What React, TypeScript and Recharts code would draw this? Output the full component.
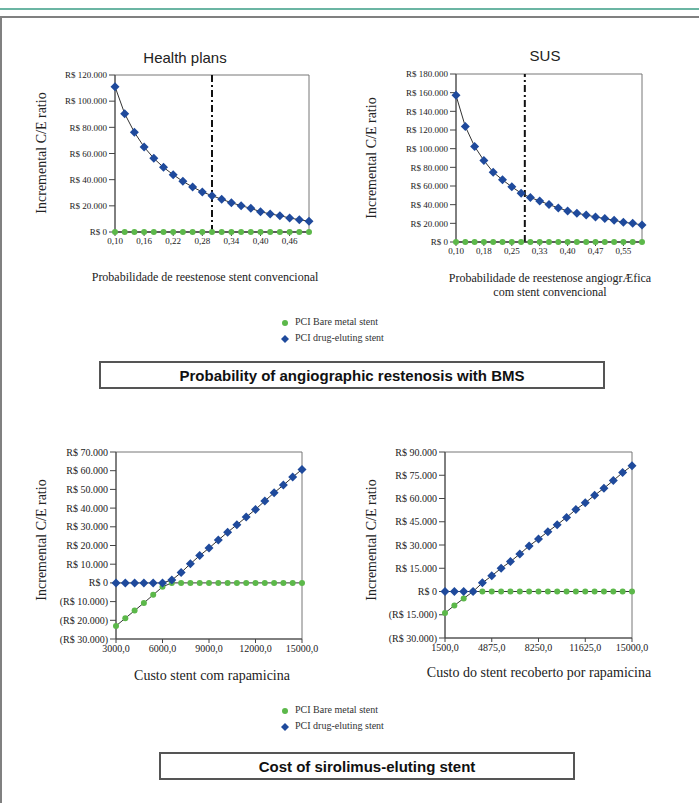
import React from 'react';
import { LineChart, Line, XAxis, YAxis, ReferenceLine, ReferenceArea } from 'recharts';

// --- data ---------------------------------------------------------------
const probHealth = [0.10, 0.12, 0.14, 0.16, 0.18, 0.20, 0.22, 0.24, 0.26, 0.28, 0.30, 0.32, 0.34, 0.36, 0.38, 0.40, 0.42, 0.44, 0.46, 0.48, 0.50];
const healthDes = [111100, 90400, 76200, 65000, 56300, 49400, 43800, 38700, 34400, 30600, 27800, 25000, 22400, 20100, 18100, 15500, 13800, 12500, 10700, 9400, 8200];
const healthBms = [0, 0, 0, 0, 0, 0, 0, 0, 0, 0, 0, 0, 0, 0, 0, 0, 0, 0, 0, 0, 0];
const healthTicks = [0.10, 0.16, 0.22, 0.28, 0.34, 0.40, 0.46];
const healthTickLabels = ['0,10', '0,16', '0,22', '0,28', '0,34', '0,40', '0,46'];

const probSus = [0.100, 0.125, 0.150, 0.175, 0.200, 0.225, 0.250, 0.275, 0.300, 0.325, 0.350, 0.375, 0.400, 0.425, 0.450, 0.475, 0.500, 0.525, 0.550, 0.575, 0.600];
const susDes = [157100, 123800, 102400, 87300, 74800, 66600, 59100, 52300, 47600, 44000, 40100, 36500, 33300, 30800, 29000, 26800, 25100, 23300, 21100, 20000, 18300];
const susBms = [0, 0, 0, 0, 0, 0, 0, 0, 0, 0, 0, 0, 0, 0, 0, 0, 0, 0, 0, 0, 0];
const susTicks = [0.100, 0.175, 0.250, 0.325, 0.400, 0.475, 0.550];
const susTickLabels = ['0,10', '0,18', '0,25', '0,33', '0,40', '0,47', '0,55'];

const costA = [3000, 3600, 4200, 4800, 5400, 6000, 6600, 7200, 7800, 8400, 9000, 9600, 10200, 10800, 11400, 12000, 12600, 13200, 13800, 14400, 15000];
const costADes = [0, 0, 0, 0, 0, 0, 1500, 5500, 10200, 14600, 18600, 22900, 27100, 31100, 35200, 39300, 43800, 48200, 52300, 56600, 60700];
const costABms = [-23000, -18900, -14800, -10700, -6400, -2100, 0, 0, 0, 0, 0, 0, 0, 0, 0, 0, 0, 0, 0, 0, 0];
const costATicks = [3000, 6000, 9000, 12000, 15000];

const costB = [1500, 2175, 2850, 3525, 4200, 4875, 5550, 6225, 6900, 7575, 8250, 8925, 9600, 10275, 10950, 11625, 12300, 12975, 13650, 14325, 15000];
const costBDes = [0, 0, 0, 0, 5600, 10100, 15000, 19300, 24200, 29400, 33900, 38600, 43100, 47800, 52900, 57200, 62100, 66600, 71600, 76700, 81200];
const costBBms = [-13900, -9000, -4500, 0, 0, 0, 0, 0, 0, 0, 0, 0, 0, 0, 0, 0, 0, 0, 0, 0, 0];
const costBTicks = [1500, 4875, 8250, 11625, 15000];

const BLUE = '#1f4a9c';
const GREEN = '#5cb84a';
const SERIF = '"Liberation Serif", "Times New Roman", serif';
const SANS = '"Liberation Sans", Arial, sans-serif';

const thousands = (v: number) => String(Math.round(v)).replace(/\B(?=(\d{3})+(?!\d))/g, '.');
const money = (v: number) => (v < 0 ? `(R$ ${thousands(-v)})` : `R$ ${thousands(v)}`);
const cost = (v: number) => v.toFixed(1).replace('.', ',');

const Diamond = (props: any) => {
  const { cx, cy } = props;
  if (cx == null || cy == null) return null;
  const r = 4.5;
  return <polygon points={`${cx},${cy - r} ${cx + r},${cy} ${cx},${cy + r} ${cx - r},${cy}`} fill={BLUE} />;
};
const Dot = (props: any) => {
  const { cx, cy } = props;
  if (cx == null || cy == null) return null;
  return <circle cx={cx} cy={cy} r={3} fill={GREEN} />;
};

type PanelProps = {
  plot: { x: number; y: number; w: number; h: number };
  xs: number[];
  des: number[];
  bms: number[];
  xTicks: number[];
  xFmt: (v: number, i: number) => string;
  yDomain: [number, number];
  yTicks: number[];
  tickSize: number;
  refX?: number;
};

function Panel({ plot, xs, des, bms, xTicks, xFmt, yDomain, yTicks, tickSize, refX }: PanelProps) {
  const rows = xs.map((x, i) => ({ x, des: des[i], bms: bms[i] }));
  const left = 80;
  const top = 10;
  const right = 30;
  const bottom = 30;
  const tickStyle = { fontFamily: SERIF, fontSize: tickSize, fill: '#222' };
  return (
    <div style={{ position: 'absolute', left: plot.x - left, top: plot.y - top }}>
      <LineChart
        width={plot.w + left + right}
        height={plot.h + top + bottom}
        data={rows}
        margin={{ top, right, left: 0, bottom: 0 }}
      >
        <ReferenceArea x1={xs[0]} x2={xs[xs.length - 1]} y1={yDomain[0]} y2={yDomain[1]} fill="none" stroke="#777" strokeWidth={1} ifOverflow="visible" />
        <XAxis
          dataKey="x"
          type="number"
          domain={[xs[0], xs[xs.length - 1]]}
          ticks={xTicks}
          tickFormatter={xFmt}
          height={bottom}
          stroke="#444"
          tick={tickStyle}
          tickSize={4}
          interval={0}
        />
        <YAxis
          type="number"
          domain={yDomain}
          ticks={yTicks}
          tickFormatter={money}
          width={left}
          stroke="#444"
          tick={tickStyle}
          tickSize={6}
          interval={0}
        />
        {refX != null && (
          <ReferenceLine x={refX} stroke="#111" strokeWidth={2} strokeDasharray="7 3 2 3" />
        )}
        <Line dataKey="bms" stroke="#333" strokeWidth={1} dot={<Dot />} isAnimationActive={false} />
        <Line dataKey="des" stroke="#333" strokeWidth={1} dot={<Diamond />} isAnimationActive={false} />
      </LineChart>
    </div>
  );
}

const abs = (x: number, y: number, extra: React.CSSProperties = {}): React.CSSProperties => ({
  position: 'absolute',
  left: x,
  top: y,
  whiteSpace: 'nowrap',
  ...extra,
});

function YLabel({ x, y }: { x: number; y: number }) {
  return (
    <div style={abs(x, y, { transform: 'translate(-50%, -50%) rotate(-90deg)', fontFamily: SERIF, fontSize: 14, color: '#222' })}>
      Incremental C/E ratio
    </div>
  );
}

function Legend({ x, y }: { x: number; y: number }) {
  const text: React.CSSProperties = { fontFamily: SERIF, fontSize: 10, color: '#333' };
  return (
    <div style={abs(x, y)}>
      <svg width={12} height={30} style={{ position: 'absolute', left: 0, top: 0 }}>
        <circle cx={5} cy={6} r={3} fill={GREEN} />
        <polygon points="5,18 9,22 5,26 1,22" fill={BLUE} />
      </svg>
      <div style={abs(15, -1, text)}>PCI Bare metal stent</div>
      <div style={abs(15, 15, text)}>PCI drug-eluting stent</div>
    </div>
  );
}

function TitleBox({ x, y, w, h, children }: { x: number; y: number; w: number; h: number; children: React.ReactNode }) {
  return (
    <div
      style={abs(x, y, {
        width: w,
        height: h,
        boxSizing: 'border-box',
        border: '2px solid #555',
        display: 'flex',
        alignItems: 'center',
        justifyContent: 'center',
        fontFamily: SANS,
        fontWeight: 'bold',
        fontSize: 15,
        color: '#111',
      })}
    >
      {children}
    </div>
  );
}

export default function App() {
  return (
    <div style={{ position: 'absolute', left: 0, top: 0, width: 699, height: 803, background: '#fff', overflow: 'hidden' }}>
      <div style={abs(0, 8, { width: 699, height: 2, background: '#6bb5a3' })} />
      <div style={abs(0, 16, { width: 699, height: 800, borderTop: '2px solid #808080', borderLeft: '2px solid #808080', boxSizing: 'border-box' })} />

      <div style={abs(185, 57, { transform: 'translate(-50%, -50%)', fontFamily: SANS, fontSize: 15, color: '#222' })}>Health plans</div>
      <div style={abs(545, 55, { transform: 'translate(-50%, -50%)', fontFamily: SANS, fontSize: 15, color: '#222' })}>SUS</div>

      <Panel
        plot={{ x: 115, y: 75, w: 194, h: 157 }}
        xs={probHealth}
        des={healthDes}
        bms={healthBms}
        xTicks={healthTicks}
        xFmt={(v) => healthTickLabels[healthTicks.indexOf(v)] ?? ''}
        yDomain={[0, 120000]}
        yTicks={[0, 20000, 40000, 60000, 80000, 100000, 120000]}
        tickSize={9}
        refX={0.30}
      />
      <Panel
        plot={{ x: 456, y: 74, w: 186, h: 168 }}
        xs={probSus}
        des={susDes}
        bms={susBms}
        xTicks={susTicks}
        xFmt={(v) => susTickLabels[susTicks.indexOf(v)] ?? ''}
        yDomain={[0, 180000]}
        yTicks={[0, 20000, 40000, 60000, 80000, 100000, 120000, 140000, 160000, 180000]}
        tickSize={9}
        refX={0.285}
      />
      <YLabel x={42} y={153} />
      <YLabel x={372} y={158} />
      <div style={abs(205, 277, { transform: 'translate(-50%, -50%)', fontFamily: SERIF, fontSize: 12, color: '#222' })}>
        Probabilidade de reestenose stent convencional
      </div>
      <div style={abs(550, 285, { transform: 'translate(-50%, -50%)', fontFamily: SERIF, fontSize: 12, color: '#222', textAlign: 'center', lineHeight: '14px' })}>
        Probabilidade de reestenose angiogrÆfica
        <br />
        com stent convencional
      </div>
      <Legend x={280} y={317} />
      <TitleBox x={99} y={361} w={506} h={28}>Probability of angiographic restenosis with BMS</TitleBox>

      <Panel
        plot={{ x: 116, y: 452, w: 186, h: 187 }}
        xs={costA}
        des={costADes}
        bms={costABms}
        xTicks={costATicks}
        xFmt={cost}
        yDomain={[-30000, 70000]}
        yTicks={[-30000, -20000, -10000, 0, 10000, 20000, 30000, 40000, 50000, 60000, 70000]}
        tickSize={10}
      />
      <Panel
        plot={{ x: 445, y: 452, w: 187, h: 186 }}
        xs={costB}
        des={costBDes}
        bms={costBBms}
        xTicks={costBTicks}
        xFmt={cost}
        yDomain={[-30000, 90000]}
        yTicks={[-30000, -15000, 0, 15000, 30000, 45000, 60000, 75000, 90000]}
        tickSize={10}
      />
      <YLabel x={42} y={540} />
      <YLabel x={372} y={540} />
      <div style={abs(212, 676, { transform: 'translate(-50%, -50%)', fontFamily: SERIF, fontSize: 14, color: '#222' })}>
        Custo stent com rapamicina
      </div>
      <div style={abs(539, 673, { transform: 'translate(-50%, -50%)', fontFamily: SERIF, fontSize: 14, color: '#222' })}>
        Custo do stent recoberto por rapamicina
      </div>
      <Legend x={280} y={705} />
      <TitleBox x={159} y={752} w={416} h={28}>Cost of sirolimus-eluting stent</TitleBox>
    </div>
  );
}
